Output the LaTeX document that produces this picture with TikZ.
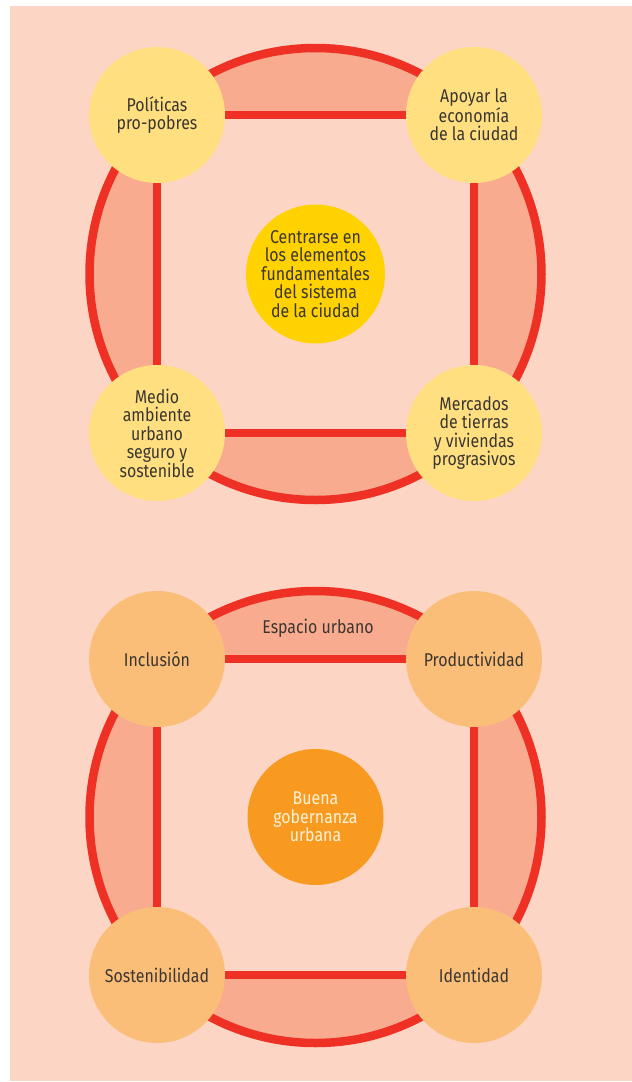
\documentclass[tikz,border=0pt]{standalone}
\usepackage{fontspec}
\setmainfont{Fira Sans}[FakeStretch=0.86]
\usepackage{tikz}

\pgfdeclarelayer{bg}
\pgfsetlayers{bg,main}

\definecolor{bgpeach}{HTML}{FCD5C4}
\definecolor{salmon}{HTML}{F8AB8F}
\definecolor{ringred}{HTML}{EE3124}
\definecolor{paleyellow}{HTML}{FFDF80}
\definecolor{gold}{HTML}{FFD200}
\definecolor{paleorange}{HTML}{FBBE78}
\definecolor{deeporange}{HTML}{F89A1F}
\definecolor{inktext}{HTML}{3B3631}
\definecolor{creamtext}{HTML}{FFF2D8}

\tikzset{
  bubble/.style={circle, minimum size=136pt, inner sep=0pt, align=center,
                 text=inktext, font=\fontsize{18.5}{18.5}\selectfont},
  link/.style={draw=ringred, line width=8pt},
  ring/.style={draw=ringred, line width=8.5pt, fill=salmon},
}

\begin{document}
\begin{tikzpicture}[x=1pt, y=-1pt]
        \useasboundingbox (0,0) rectangle (632,1082);
        \begin{pgfonlayer}{bg}
          \fill[bgpeach] (10,6) rectangle (632,1081);
        \end{pgfonlayer}

        % first ring
        \node[bubble, fill=paleyellow] (pol) at (157,115) {Políticas\\pro-pobres};          %top left
        \node[bubble, fill=paleyellow] (apo) at (474,115) {Apoyar la\\economía\\de la ciudad}; %top right
        \node[bubble, fill=paleyellow] (med) at (157,433) {Medio\\ambiente\\urbano\\seguro y\\sostenible}; %bottom left
        \node[bubble, fill=paleyellow] (mer) at (474,433) {Mercados\\de tierras\\y viviendas\\prograsivos}; %bottom right
        \node[bubble, fill=gold]       (cen) at (315.5,274) {Centrarse en\\los elementos\\fundamentales\\del sistema\\de la ciudad}; %center

        \begin{pgfonlayer}{bg}
          \filldraw[ring] (cen.center) circle (226pt);
          \fill[bgpeach] (pol.center) rectangle (mer.center);
        \end{pgfonlayer}

        \draw[link] (pol) -- (apo);
        \draw[link] (apo) -- (mer);
        \draw[link] (mer) -- (med);
        \draw[link] (med) -- (pol);

        % second ring
        \node[bubble, fill=paleorange] (inc) at (157,659) {Inclusión};      %top left
        \node[bubble, fill=paleorange] (pro) at (474,659) {Productividad};  %top right
        \node[bubble, fill=paleorange] (sos) at (157,975) {Sostenibilidad}; %bottom left
        \node[bubble, fill=paleorange] (ide) at (474,975) {Identidad};      %bottom right
        \node[bubble, fill=deeporange, text=creamtext] (gob) at (315.5,817) {Buena\\gobernanza\\urbana}; %center
        \node[text=inktext, font=\fontsize{18.5}{18.5}\selectfont] (esp) at (318,628) {Espacio urbano};

        \begin{pgfonlayer}{bg}
          \filldraw[ring] (gob.center) circle (226pt);
          \fill[bgpeach] (inc.center) rectangle (ide.center);
        \end{pgfonlayer}

        \draw[link] (inc) -- (pro);
        \draw[link] (pro) -- (ide);
        \draw[link] (ide) -- (sos);
        \draw[link] (sos) -- (inc);
\end{tikzpicture}
\end{document}
